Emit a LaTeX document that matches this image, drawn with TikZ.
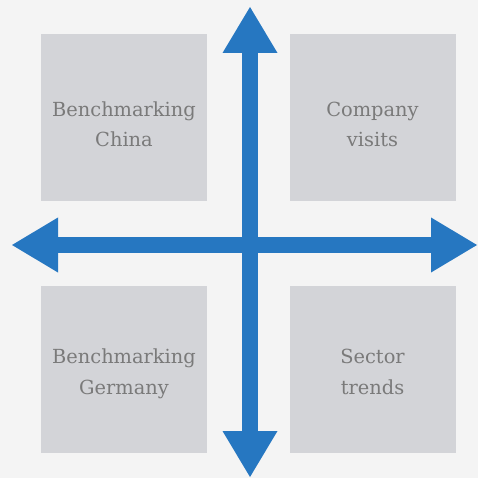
\documentclass[tikz,border=0pt]{standalone}
\usepackage{fontspec}
\setmainfont{DejaVu Serif}
\usetikzlibrary{arrows.meta}
\definecolor{bgcol}{HTML}{F4F4F4}
\definecolor{boxcol}{HTML}{D3D4D8}
\definecolor{arrowcol}{HTML}{2677C1}
\definecolor{textcol}{HTML}{7A7A7A}
\tikzset{
	quadbox/.style={fill=boxcol, draw=none, minimum width=166*0.25mm, minimum height=167*0.25mm, inner sep=0pt},
	quadtext/.style={textcol, align=center, font=\fontsize{13.8}{22}\selectfont, anchor=base},
	axisarrow/.style={draw=arrowcol, line width=4mm,
		{Triangle[length=11.5mm, width=13.75mm, line width=0pt]}-{Triangle[length=11.5mm, width=13.75mm, line width=0pt]}},
}
\begin{document}
\begin{tikzpicture}[x=0.25mm, y=-0.25mm]
	\fill[bgcol] (0,0) rectangle (478,478);
	\useasboundingbox (0,0) rectangle (478,478);
	\node[quadbox] (boxtl) at (124,117.5) {};
	\node[quadbox] (boxtr) at (372.5,117.5) {};
	\node[quadbox] (boxbl) at (124,369) {};
	\node[quadbox] (boxbr) at (372.5,369) {};
	\node[quadtext] (texttl) at (124,147) {Benchmarking\\China};
	\node[quadtext] (texttr) at (372.5,147) {Company\\visits};
	\node[quadtext] (textbl) at (124,394) {Benchmarking\\Germany};
	\node[quadtext] (textbr) at (372.5,394) {Sector\\trends};
	\coordinate (north) at (250,7);
	\coordinate (south) at (250,477);
	\coordinate (west) at (12,245);
	\coordinate (east) at (477,245);
	\draw[axisarrow] (west) -- (east);
	\draw[axisarrow] (north) -- (south);
\end{tikzpicture}
\end{document}
